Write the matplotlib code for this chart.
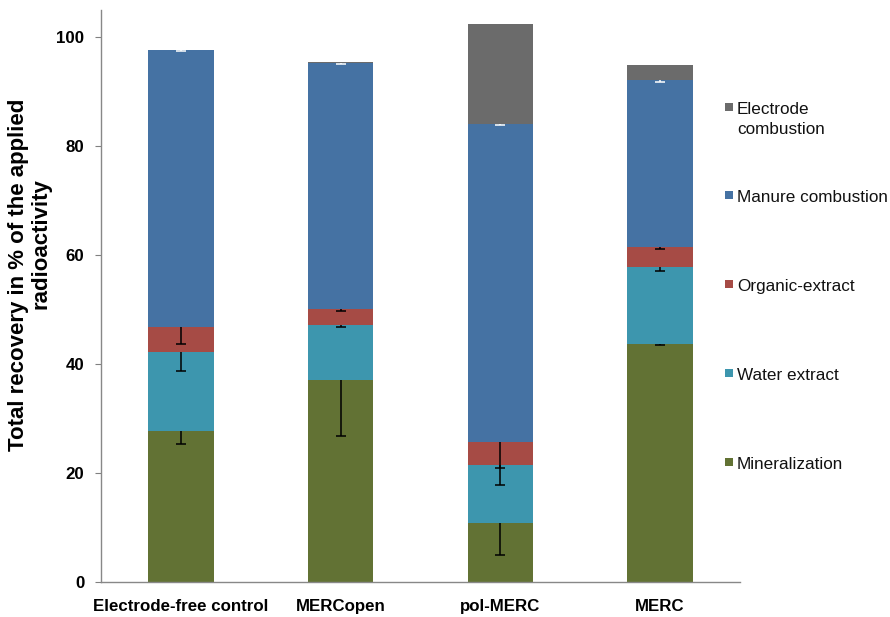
import matplotlib
matplotlib.use("Agg")
import matplotlib.pyplot as plt
from matplotlib.patches import Rectangle
import numpy as np

plt.rcParams['font.family'] = ['Liberation Sans', 'DejaVu Sans']

categories = ["Electrode-free control", "MERCopen", "pol-MERC", "MERC"]
series_names = ["Mineralization", "Water extract", "Organic-extract",
                "Manure combustion", "Electrode combustion"]
legend_labels = ["Mineralization", "Water extract", "Organic-extract",
                 "Manure combustion", "Electrode\ncombustion"]
ylabel_lines = ["Total recovery in % of the applied", "radioactivity"]

mineralization = [27.8, 37.1, 10.9, 43.6]
water_extract = [14.4, 10.1, 10.6, 14.2]
organic_extract = [4.7, 2.9, 4.2, 3.7]
manure_combustion = [50.8, 45.2, 58.4, 30.6]
electrode_combustion = [0.0, 0.2, 18.3, 2.8]

err_mineralization = [2.4, 10.3, 5.9, 0.1]
err_water = [3.4, 0.3, 3.7, 0.8]
err_organic = [3.2, 0.4, 4.8, 0.3]
err_manure = [0.2, 0.2, 0.2, 0.3]
err_electrode = [0.0, 0.0, 0.0, 0.0]

colors = ["#627234", "#3D96AE", "#A64B45", "#4572A3", "#6B6B6B"]
err_colors = ["black", "black", "black", "white", "black"]

values = [mineralization, water_extract, organic_extract, manure_combustion, electrode_combustion]
errors = [err_mineralization, err_water, err_organic, err_manure, err_electrode]

fig = plt.figure(figsize=(8.9, 6.17), dpi=100)
ax = fig.add_axes([101/890, 1-582/617, (740-101)/890, (582-10)/617])

x = np.arange(len(categories))
width = 0.41
bottom = np.zeros(len(categories))
tops = []
for vals, col in zip(values, colors):
    v = np.array(vals)
    ax.bar(x, v, width, bottom=bottom, color=col, edgecolor='none', zorder=2)
    bottom = bottom + v
    tops.append(bottom.copy())

# lower-only error bars with a cap at the lower end
for top, err, ecol in zip(tops, errors, err_colors):
    e = np.array(err)
    mask = e > 0
    if mask.any():
        ax.vlines(x[mask], top[mask] - e[mask], top[mask], color=ecol,
                  linewidth=1.1, zorder=4)
        ax.plot(x[mask], top[mask] - e[mask], linestyle='none', marker='_',
                markersize=7, markeredgewidth=1.1, color=ecol, zorder=4)

ax.set_xlim(-0.5, 3.5)
ax.set_ylim(0, 105)
ax.set_yticks([0, 20, 40, 60, 80, 100])
ax.set_xticks(x)
ax.set_xticklabels(categories, fontsize=12.2, fontweight='bold')
for lab in ax.get_yticklabels():
    lab.set_fontsize(12.2)
    lab.set_fontweight('bold')
ax.tick_params(axis='x', length=0, pad=12)
ax.tick_params(axis='y', length=4, width=0.8, color='#808080', pad=8, direction='out')
for s in ['top', 'right']:
    ax.spines[s].set_visible(False)
for s in ['left', 'bottom']:
    ax.spines[s].set_color('#888888')
    ax.spines[s].set_linewidth(1.0)

# y-axis title (two lines, as in the reference)
fig.text(19/890, 1 - 275/617, ylabel_lines[0], rotation=90, fontsize=16,
         fontweight='bold', ha='center', va='center')
fig.text(41/890, 1 - 244/617, ylabel_lines[1], rotation=90, fontsize=16,
         fontweight='bold', ha='center', va='center')

# manual legend on the right
legend_y = [465, 376, 287, 198, 110]
for lab, col, yp in zip(legend_labels, colors, legend_y):
    sq = 8
    fig.patches.append(Rectangle(((729 - sq/2)/890, 1 - (yp - 3 + sq/2)/617), sq/890, sq/617,
                                 transform=fig.transFigure, facecolor=col, edgecolor='none'))
    fig.text(737/890, 1 - (yp - 8)/617, lab, fontsize=12.3, va='top', ha='left',
             linespacing=1.4, color='#111111')

fig.savefig("out.png", dpi=100)
